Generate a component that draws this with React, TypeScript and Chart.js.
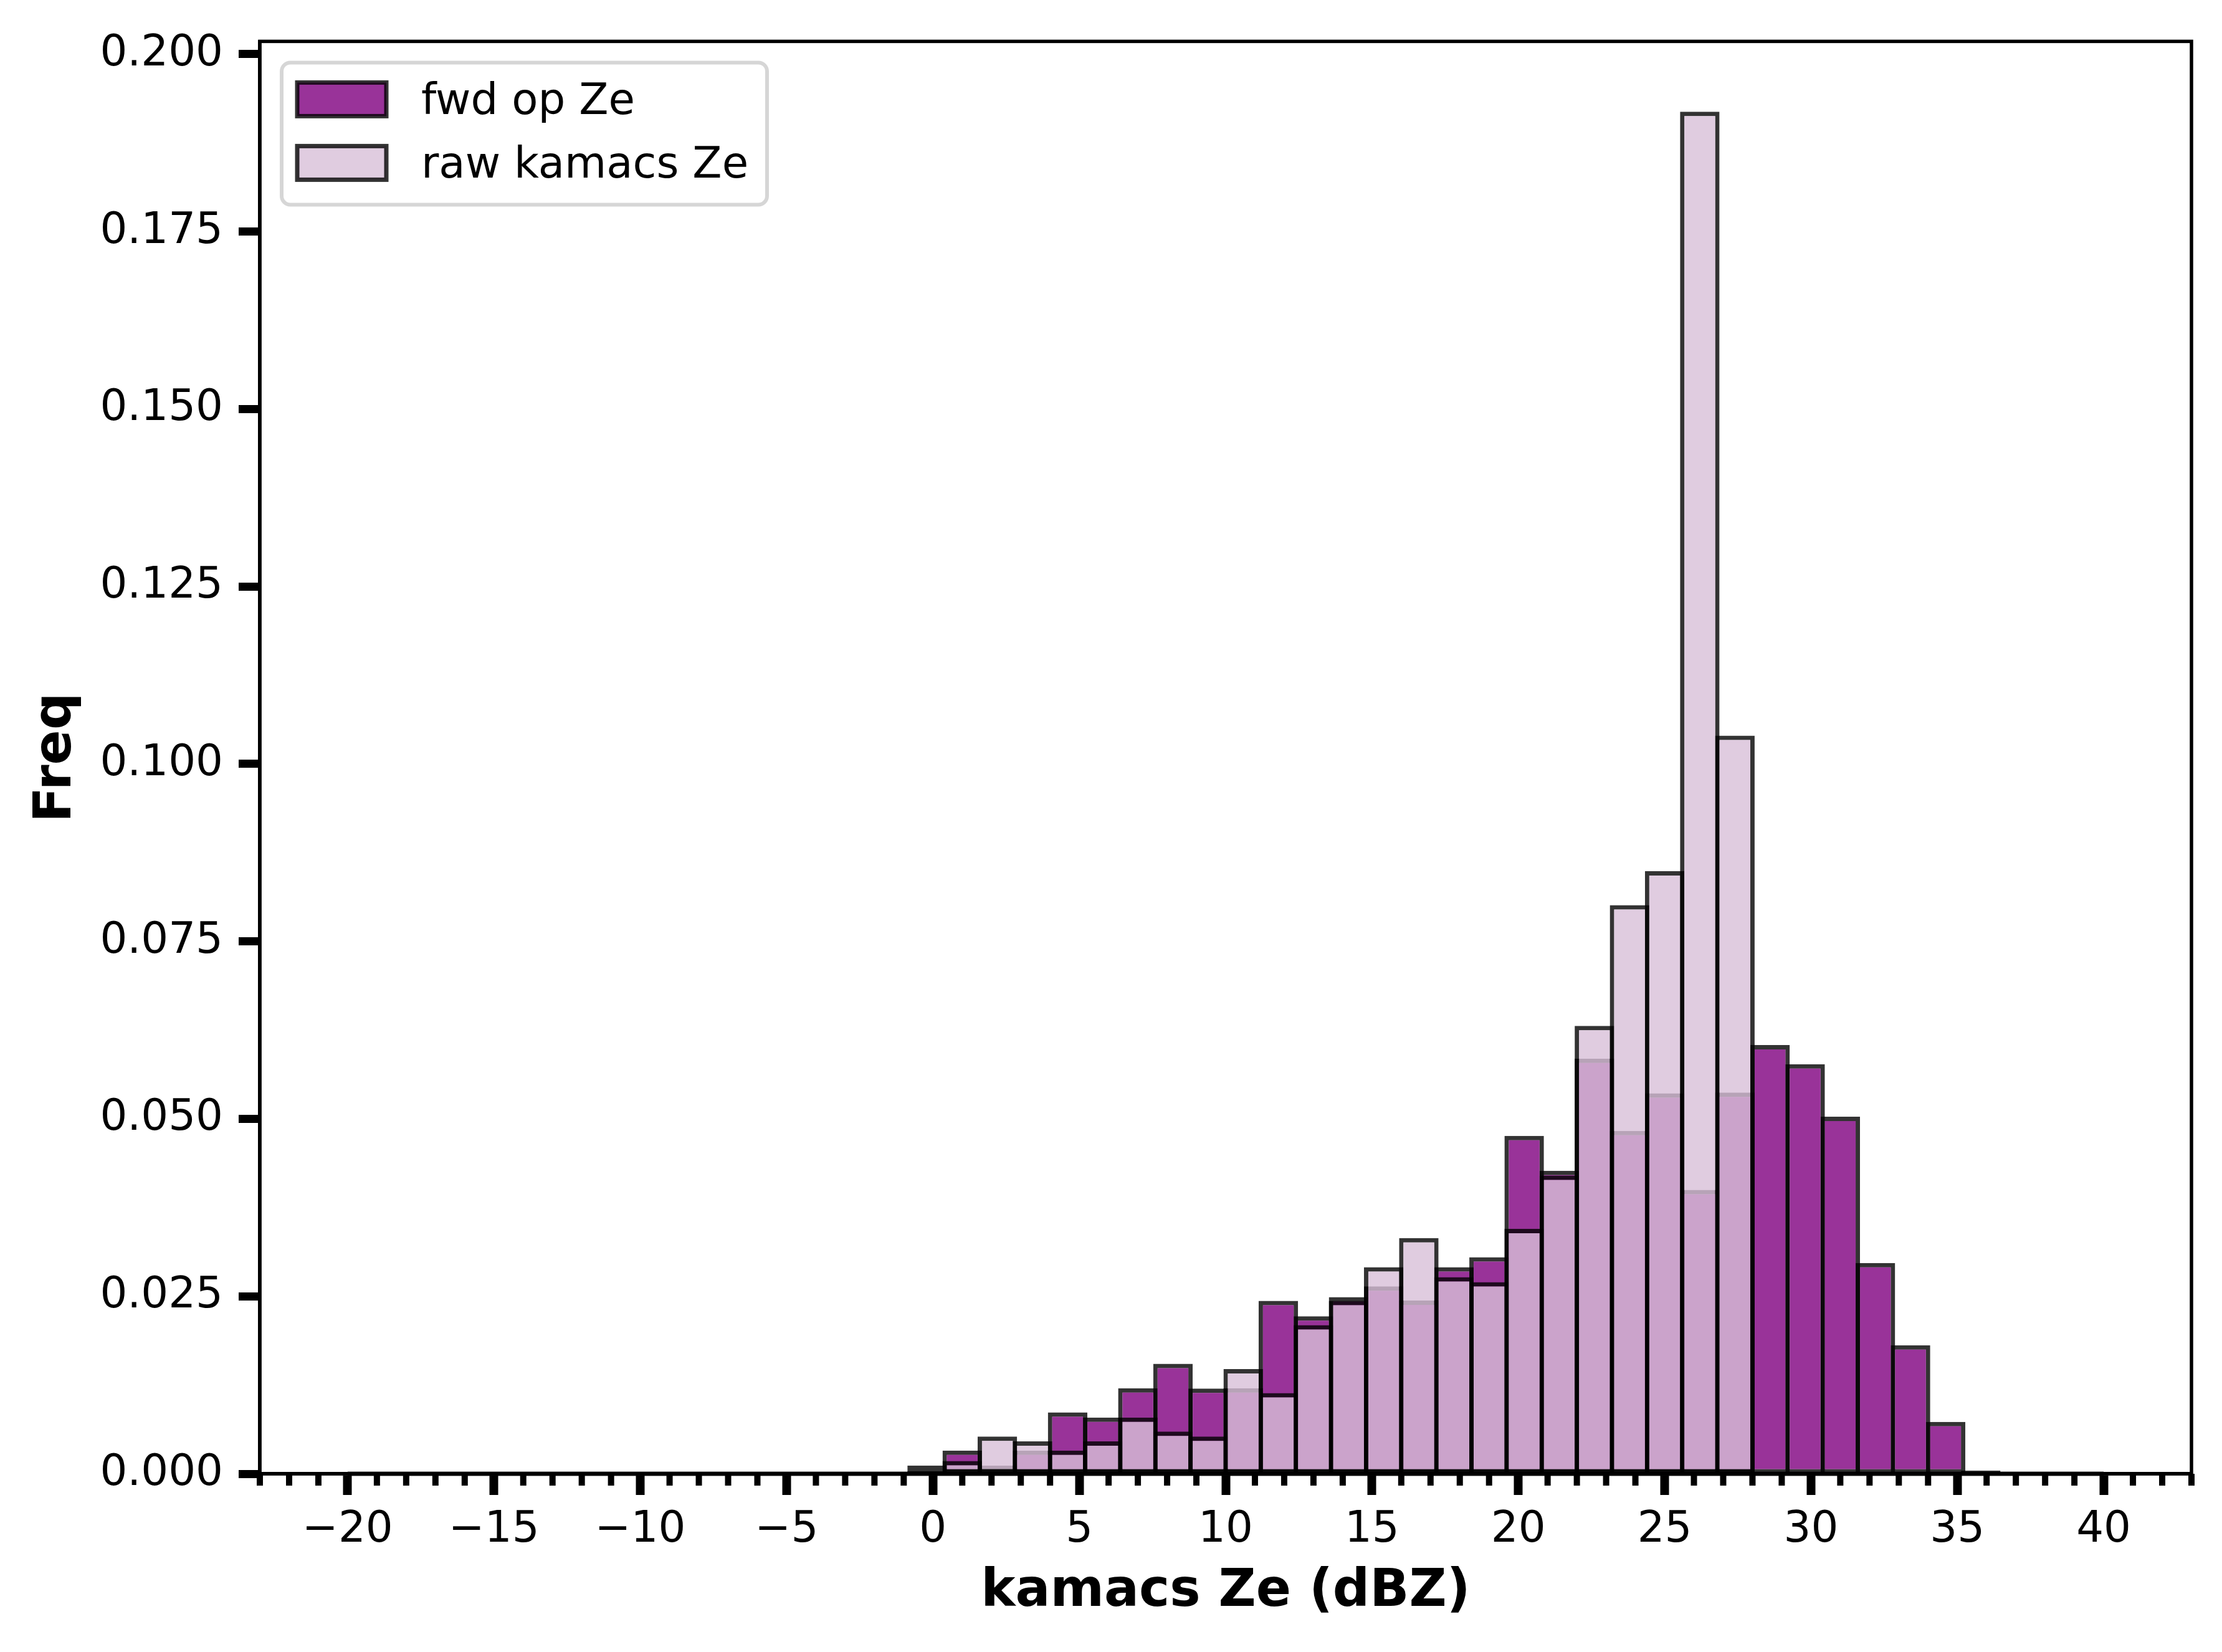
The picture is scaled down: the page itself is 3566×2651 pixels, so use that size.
import { useEffect, useRef } from 'react'
import { Chart, registerables, type Plugin } from 'chart.js'

Chart.register(...registerables)

// Histogram bins are 1.2 dBZ wide on [-20, 40]; only the occupied bins are listed.
const HIST_MIN = -20
const HIST_MAX = 40

const binCenters = [
  -0.2, 1.0, 2.2, 3.4, 4.6, 5.8, 7.0, 8.2, 9.4, 10.6, 11.8, 13.0, 14.2, 15.4, 16.6, 17.8,
  19.0, 20.2, 21.4, 22.6, 23.8, 25.0, 26.2, 27.4, 28.6, 29.8, 31.0, 32.2, 33.4, 34.6, 35.8,
]

const fwdFreq = [
  0.00116, 0.00326, 0.00116, 0.00326, 0.00865, 0.00792, 0.01205, 0.0155, 0.012, 0.01205,
  0.02437, 0.0222, 0.0249, 0.0264, 0.0244, 0.0291, 0.0305, 0.0476, 0.0427, 0.0585, 0.0483,
  0.0536, 0.04, 0.0537, 0.0604, 0.0577, 0.0503, 0.0297, 0.0181, 0.0073, 0.00045,
]

const rawFreq = [
  0.00035, 0.0018, 0.00524, 0.00457, 0.00326, 0.00457, 0.00792, 0.00594, 0.00524, 0.01476,
  0.01136, 0.02094, 0.02436, 0.0291, 0.0332, 0.0277, 0.027, 0.0345, 0.042, 0.0631, 0.0801,
  0.0849, 0.1919, 0.104, 0, 0, 0, 0, 0, 0, 0,
]

const xTickValues = [-20, -15, -10, -5, 0, 5, 10, 15, 20, 25, 30, 35, 40]
const yTickValues = [0, 0.025, 0.05, 0.075, 0.1, 0.125, 0.15, 0.175, 0.2]

const FWD_FILL = 'rgba(128, 0, 128, 0.8)'
const RAW_FILL = 'rgba(216, 191, 216, 0.8)'
const EDGE = 'rgba(0, 0, 0, 0.8)'
const EDGE_WIDTH = 7
const FONT = 'DejaVu Sans'

Chart.defaults.font.family = FONT

const framePlugin: Plugin<'bar'> = {
  id: 'mplFrame',
  afterDatasetsDraw(chart) {
    // empty bins still get an edge along the baseline, like matplotlib's zero-height bars
    const { ctx, scales } = chart
    const x = scales.x
    const y = scales.y
    ctx.save()
    ctx.strokeStyle = EDGE
    ctx.lineWidth = EDGE_WIDTH
    ctx.beginPath()
    ctx.moveTo(x.getPixelForValue(HIST_MIN), y.getPixelForValue(0))
    ctx.lineTo(x.getPixelForValue(HIST_MAX), y.getPixelForValue(0))
    ctx.stroke()
    ctx.restore()
  },
  afterDraw(chart) {
    const { ctx, chartArea: a, scales } = chart
    const x = scales.x
    ctx.save()

    // full box of spines
    ctx.strokeStyle = '#000'
    ctx.lineWidth = 5.5
    ctx.strokeRect(a.left, a.top, a.right - a.left, a.bottom - a.top)

    // minor ticks every 1 dBZ
    ctx.lineWidth = 10
    for (let v = Math.ceil(x.min); v <= x.max; v++) {
      if (v % 5 === 0) continue
      const px = x.getPixelForValue(v)
      ctx.beginPath()
      ctx.moveTo(px, a.bottom)
      ctx.lineTo(px, a.bottom + 19)
      ctx.stroke()
    }

    // legend, upper left
    const bx = a.left + 35
    const by = a.top + 34
    const bw = 779
    const bh = 228
    const r = 14
    ctx.beginPath()
    ctx.moveTo(bx + r, by)
    ctx.arcTo(bx + bw, by, bx + bw, by + bh, r)
    ctx.arcTo(bx + bw, by + bh, bx, by + bh, r)
    ctx.arcTo(bx, by + bh, bx, by, r)
    ctx.arcTo(bx, by, bx + bw, by, r)
    ctx.closePath()
    ctx.fillStyle = 'rgba(255, 255, 255, 0.8)'
    ctx.fill()
    ctx.strokeStyle = 'rgba(204, 204, 204, 0.8)'
    ctx.lineWidth = 6
    ctx.stroke()

    ctx.font = `69px "${FONT}"`
    ctx.textAlign = 'left'
    ctx.textBaseline = 'alphabetic'
    chart.data.datasets.forEach((ds, i) => {
      const rowTop = by + 32 + i * 102
      ctx.fillStyle = ds.backgroundColor as string
      ctx.fillRect(bx + 25, rowTop, 143, 54)
      ctx.strokeStyle = EDGE
      ctx.lineWidth = EDGE_WIDTH
      ctx.strokeRect(bx + 25, rowTop, 143, 54)
      ctx.fillStyle = '#000'
      ctx.fillText(ds.label ?? '', bx + 224, rowTop + 51)
    })

    ctx.restore()
  },
}

export default function App() {
  const canvasRef = useRef<HTMLCanvasElement>(null)

  useEffect(() => {
    if (!canvasRef.current) return

    const chart = new Chart(canvasRef.current, {
      type: 'bar',
      data: {
        datasets: [
          {
            label: 'fwd op Ze',
            data: binCenters.map((x, i) => ({ x, y: fwdFreq[i] })),
            backgroundColor: FWD_FILL,
            borderColor: EDGE,
            borderWidth: EDGE_WIDTH,
            borderSkipped: false,
            order: 2,
          },
          {
            label: 'raw kamacs Ze',
            data: binCenters.map((x, i) => ({ x, y: rawFreq[i] })),
            backgroundColor: RAW_FILL,
            borderColor: EDGE,
            borderWidth: EDGE_WIDTH,
            borderSkipped: false,
            order: 1,
          },
        ],
      },
      options: {
        responsive: false,
        devicePixelRatio: 1,
        animation: false,
        events: [],
        layout: { padding: { top: 55, right: 49, left: 0, bottom: 0 } },
        datasets: {
          // widen each bar by one edge width so the edges sit centred on the bin boundaries
          bar: { grouped: false, barPercentage: 1.124, categoryPercentage: 1 },
        },
        plugins: { legend: { display: false }, tooltip: { enabled: false } },
        scales: {
          x: {
            type: 'linear',
            min: -23,
            max: 43,
            offset: false,
            afterBuildTicks: (s) => {
              s.ticks = xTickValues.map((value) => ({ value }))
            },
            afterFit: (s) => {
              s.height = 286
            },
            grid: {
              offset: false,
              drawOnChartArea: false,
              drawTicks: true,
              tickLength: 34,
              tickWidth: 14,
              tickColor: '#000',
            },
            border: { display: true, color: '#000', width: 5.5, z: 1 },
            ticks: {
              color: '#000',
              font: { size: 69 },
              padding: 16,
              maxRotation: 0,
              autoSkip: false,
              callback: (v) => String(v).replace('-', '\u2212'),
            },
            title: {
              display: true,
              text: 'kamacs Ze (dBZ)',
              color: '#000',
              font: { size: 83, weight: 'bold' },
              padding: { top: 0, bottom: 46 },
            },
          },
          y: {
            type: 'linear',
            min: 0,
            max: 0.2018,
            afterBuildTicks: (s) => {
              s.ticks = yTickValues.map((value) => ({ value }))
            },
            afterFit: (s) => {
              s.width = 417
            },
            grid: {
              drawOnChartArea: false,
              drawTicks: true,
              tickLength: 34,
              tickWidth: 13,
              tickColor: '#000',
            },
            border: { display: true, color: '#000', width: 5.5, z: 1 },
            ticks: {
              color: '#000',
              font: { size: 69 },
              padding: 25,
              callback: (v) => Number(v).toFixed(3),
            },
            title: {
              display: true,
              text: 'Freq',
              color: '#000',
              font: { size: 83, weight: 'bold' },
              padding: { top: 42, bottom: 0 },
            },
          },
        },
      },
      plugins: [framePlugin],
    })

    return () => chart.destroy()
  }, [])

  return (
    <div style={{ position: 'absolute', left: 0, top: 0, width: 3566, height: 2651, background: '#fff' }}>
      <canvas
        ref={canvasRef}
        width={3566}
        height={2651}
        style={{ display: 'block', width: 3566, height: 2651 }}
        role="img"
        aria-label="Histogram of kamacs Ze frequencies"
      />
    </div>
  )
}
